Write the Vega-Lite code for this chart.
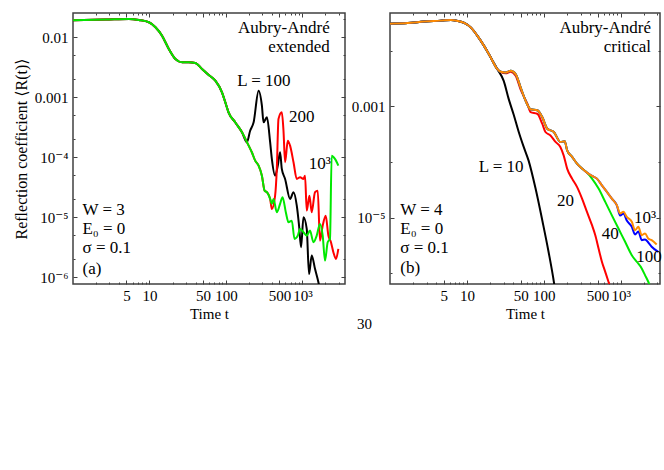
{
  "$schema": "https://vega.github.io/schema/vega-lite/v6.json",
  "background": "white",
  "padding": {"left": 12, "top": 11, "right": 2, "bottom": 5},
  "config": {
    "font": "Liberation Serif, DejaVu Serif, serif",
    "view": {"stroke": "#404040", "strokeWidth": 1.5},
    "axis": {
      "labelFont": "Liberation Serif, DejaVu Serif, serif", "titleFont": "Liberation Serif, DejaVu Serif, serif",
      "labelFontSize": 15, "titleFontSize": 15, "titleFontWeight": "normal",
      "labelColor": "black", "titleColor": "black",
      "domain": false, "grid": false, "tickColor": "#404040", "tickWidth": 1
    },
    "text": {"font": "Liberation Serif, DejaVu Serif, serif", "fontSize": 17, "color": "black"},
    "title": {"font": "Liberation Serif, DejaVu Serif, serif"}
  },
  "title": {"text": "30", "orient": "bottom", "anchor": "middle", "fontSize": 15, "fontWeight": "normal", "dx": 27, "offset": -5},
  "spacing": 3,
  "resolve": {"scale": {"color": "independent"}},
  "datasets": {
    "a": [
      {"L":"100","t":1,"R":0.0192},{"L":"100","t":2.67,"R":0.0197},{"L":"100","t":5.39,"R":0.0202},{"L":"100","t":7.27,"R":0.0194},{"L":"100","t":9.82,"R":0.0178},{"L":"100","t":11.97,"R":0.0147},{"L":"100","t":14.6,"R":0.01063},{"L":"100","t":17.9,"R":0.00638},{"L":"100","t":21.8,"R":0.00435},{"L":"100","t":26.7,"R":0.00383},{"L":"100","t":32.6,"R":0.00383},{"L":"100","t":39.8,"R":0.00373},{"L":"100","t":48.7,"R":0.00296},{"L":"100","t":59.5,"R":0.00235},{"L":"100","t":72.6,"R":0.00189},{"L":"100","t":88.7,"R":0.00121},{"L":"100","t":98,"R":0.000825},{"L":"100","t":108,"R":0.000562},{"L":"100","t":132,"R":0.000383},{"L":"100","t":162,"R":0.000261},
      {"L":"100","t":188,"R":1.78e-4},{"L":"100","t":207,"R":2.77e-4},{"L":"100","t":230,"R":3.83e-4},{"L":"100","t":267,"R":1.29e-3},{"L":"100","t":295,"R":7.24e-4},{"L":"100","t":310,"R":3.83e-4},{"L":"100","t":343,"R":4.64e-4},{"L":"100","t":378,"R":1.78e-4},{"L":"100","t":398,"R":9.37e-5},{"L":"100","t":439,"R":4.93e-5},{"L":"100","t":476,"R":7.24e-5},{"L":"100","t":510,"R":1.21e-4},{"L":"100","t":537,"R":6.38e-5},{"L":"100","t":593,"R":4.35e-5},{"L":"100","t":689,"R":2.02e-5},{"L":"100","t":764,"R":2.61e-5},{"L":"100","t":843,"R":1.56e-5},{"L":"100","t":903,"R":7.24e-6},{"L":"100","t":959,"R":3.16e-6},{"L":"100","t":1031,"R":1.0e-5},{"L":"100","t":1138,"R":6.38e-6},{"L":"100","t":1219,"R":1.13e-6},{"L":"100","t":1322,"R":2.29e-6},{"L":"100","t":1459,"R":1.38e-6},{"L":"100","t":1617,"R":8.25e-7},{"L":"100","t":1733,"R":5.27e-7},
      {"L":"200","t":1,"R":0.0192},{"L":"200","t":2.67,"R":0.0197},{"L":"200","t":5.39,"R":0.0202},{"L":"200","t":7.27,"R":0.0194},{"L":"200","t":9.82,"R":0.0178},{"L":"200","t":11.97,"R":0.0147},{"L":"200","t":14.6,"R":0.01063},{"L":"200","t":17.9,"R":0.00638},{"L":"200","t":21.8,"R":0.00435},{"L":"200","t":26.7,"R":0.00383},{"L":"200","t":32.6,"R":0.00383},{"L":"200","t":39.8,"R":0.00373},{"L":"200","t":48.7,"R":0.00296},{"L":"200","t":59.5,"R":0.00235},{"L":"200","t":72.6,"R":0.00189},{"L":"200","t":88.7,"R":0.00121},{"L":"200","t":98,"R":0.000825},{"L":"200","t":108,"R":0.000562},{"L":"200","t":132,"R":0.000383},{"L":"200","t":162,"R":0.000261},{"L":"200","t":198,"R":0.000156},{"L":"200","t":218,"R":0.000121},{"L":"200","t":241,"R":8.77e-5},{"L":"200","t":267,"R":7.24e-5},{"L":"200","t":295,"R":4.93e-5},{"L":"200","t":320,"R":2.77e-5},{"L":"200","t":343,"R":2.61e-5},{"L":"200","t":378,"R":2.02e-5},
      {"L":"200","t":398,"R":1.37e-5},{"L":"200","t":439,"R":2.29e-5},{"L":"200","t":462,"R":6.38e-5},{"L":"200","t":486,"R":4.35e-4},{"L":"200","t":537,"R":5.62e-4},{"L":"200","t":565,"R":2.77e-4},{"L":"200","t":593,"R":8.25e-5},{"L":"200","t":643,"R":1.89e-4},{"L":"200","t":689,"R":1.56e-4},{"L":"200","t":764,"R":8.25e-5},{"L":"200","t":843,"R":4.35e-5},{"L":"200","t":931,"R":4.64e-5},{"L":"200","t":1031,"R":4.35e-5},{"L":"200","t":1081,"R":4.93e-5},{"L":"200","t":1138,"R":1.29e-5},{"L":"200","t":1234,"R":2.29e-5},{"L":"200","t":1322,"R":1.21e-5},{"L":"200","t":1459,"R":2.61e-5},{"L":"200","t":1584,"R":2.77e-5},{"L":"200","t":1695,"R":4.07e-6},{"L":"200","t":1840,"R":7.24e-6},{"L":"200","t":2014,"R":1.06e-5},{"L":"200","t":2183,"R":4.93e-6},{"L":"200","t":2360,"R":3.83e-6},{"L":"200","t":2537,"R":2.61e-6},{"L":"200","t":2742,"R":2.02e-6},{"L":"200","t":2946,"R":2.96e-6},
      {"L":"1000","t":1,"R":0.0192},{"L":"1000","t":2.67,"R":0.0197},{"L":"1000","t":5.39,"R":0.0202},{"L":"1000","t":7.27,"R":0.0194},{"L":"1000","t":9.82,"R":0.0178},{"L":"1000","t":11.97,"R":0.0147},{"L":"1000","t":14.6,"R":0.01063},{"L":"1000","t":17.9,"R":0.00638},{"L":"1000","t":21.8,"R":0.00435},{"L":"1000","t":26.7,"R":0.00383},{"L":"1000","t":32.6,"R":0.00383},{"L":"1000","t":39.8,"R":0.00373},{"L":"1000","t":48.7,"R":0.00296},{"L":"1000","t":59.5,"R":0.00235},{"L":"1000","t":72.6,"R":0.00189},{"L":"1000","t":88.7,"R":0.00121},{"L":"1000","t":98,"R":0.000825},{"L":"1000","t":108,"R":0.000562},{"L":"1000","t":132,"R":0.000383},{"L":"1000","t":162,"R":0.000261},{"L":"1000","t":198,"R":0.000156},{"L":"1000","t":218,"R":0.000121},{"L":"1000","t":241,"R":8.77e-5},{"L":"1000","t":267,"R":7.24e-5},{"L":"1000","t":295,"R":4.93e-5},{"L":"1000","t":320,"R":2.77e-5},{"L":"1000","t":343,"R":2.61e-5},{"L":"1000","t":378,"R":2.02e-5},
      {"L":"1000","t":398,"R":1.67e-5},{"L":"1000","t":419,"R":2.02e-5},{"L":"1000","t":462,"R":1.21e-5},{"L":"1000","t":510,"R":1.67e-5},{"L":"1000","t":549,"R":2.16e-5},{"L":"1000","t":606,"R":1.21e-5},{"L":"1000","t":657,"R":8.25e-6},{"L":"1000","t":726,"R":8.77e-6},{"L":"1000","t":787,"R":4.35e-6},{"L":"1000","t":868,"R":4.93e-6},{"L":"1000","t":931,"R":6.38e-6},{"L":"1000","t":1031,"R":5.62e-6},{"L":"1000","t":1138,"R":4.93e-6},{"L":"1000","t":1256,"R":5.98e-6},{"L":"1000","t":1390,"R":3.83e-6},{"L":"1000","t":1536,"R":4.93e-6},{"L":"1000","t":1695,"R":7.73e-6},{"L":"1000","t":1840,"R":4.93e-6},{"L":"1000","t":1972,"R":1.89e-6},{"L":"1000","t":2137,"R":3.83e-6},{"L":"1000","t":2290,"R":4.35e-6},{"L":"1000","t":2410,"R":1.06e-4},{"L":"1000","t":2661,"R":9.37e-5},{"L":"1000","t":2946,"R":7.24e-5}
    ],
    "b": [
      {"L":"10","t":1,"R":0.0309},{"L":"10","t":1.71,"R":0.0318},{"L":"10","t":2.8,"R":0.0336},{"L":"10","t":4.61,"R":0.035},{"L":"10","t":6.21,"R":0.036},{"L":"10","t":7.58,"R":0.0346},{"L":"10","t":9.23,"R":0.0318},{"L":"10","t":11.3,"R":0.0262},{"L":"10","t":13.7,"R":0.0186},{"L":"10","t":16.7,"R":0.0123},{"L":"10","t":20.4,"R":0.00759},{"L":"10","t":24.9,"R":0.00469},
      {"L":"10","t":30.1,"R":0.00289},{"L":"10","t":34.9,"R":0.00137},{"L":"10","t":40.6,"R":7.1e-4},{"L":"10","t":47.1,"R":3.51e-4},{"L":"10","t":54.6,"R":1.89e-4},{"L":"10","t":63.4,"R":1.06e-4},{"L":"10","t":78.1,"R":3.33e-5},{"L":"10","t":96.2,"R":8.51e-6},{"L":"10","t":115,"R":2.46e-6},{"L":"10","t":136,"R":6.56e-7},{"L":"10","t":142,"R":4.33e-7},
      {"L":"20","t":1,"R":0.0309},{"L":"20","t":1.71,"R":0.0318},{"L":"20","t":2.8,"R":0.0336},{"L":"20","t":4.61,"R":0.035},{"L":"20","t":6.21,"R":0.036},{"L":"20","t":7.58,"R":0.0346},{"L":"20","t":9.23,"R":0.0318},{"L":"20","t":11.3,"R":0.0262},{"L":"20","t":13.7,"R":0.0186},{"L":"20","t":16.7,"R":0.0123},{"L":"20","t":20.4,"R":0.00759},{"L":"20","t":24.9,"R":0.00469},{"L":"20","t":27.5,"R":0.0042},
      {"L":"20","t":32,"R":0.00394},{"L":"20","t":37.1,"R":0.0042},{"L":"20","t":43,"R":0.00356},{"L":"20","t":50,"R":0.002},{"L":"20","t":61,"R":0.00112},{"L":"20","t":67.3,"R":7.94e-4},{"L":"20","t":82.2,"R":7.39e-4},{"L":"20","t":95.3,"R":4.89e-4},{"L":"20","t":105,"R":3.47e-4},{"L":"20","t":122,"R":3.01e-4},{"L":"20","t":142,"R":2.3e-4},{"L":"20","t":164,"R":1.87e-4},{"L":"20","t":181,"R":1.32e-4},{"L":"20","t":201,"R":7.62e-5},{"L":"20","t":233,"R":5.03e-5},{"L":"20","t":270,"R":3.57e-5},{"L":"20","t":314,"R":2.2e-5},{"L":"20","t":364,"R":1.27e-5},{"L":"20","t":423,"R":7.31e-6},{"L":"20","t":467,"R":4.83e-6},{"L":"20","t":515,"R":2.79e-6},{"L":"20","t":569,"R":1.61e-6},{"L":"20","t":629,"R":1.06e-6},{"L":"20","t":693,"R":7.03e-7},{"L":"20","t":751,"R":4.91e-7},
      {"L":"40","t":1,"R":0.0309},{"L":"40","t":1.71,"R":0.0318},{"L":"40","t":2.8,"R":0.0336},{"L":"40","t":4.61,"R":0.035},{"L":"40","t":6.21,"R":0.036},{"L":"40","t":7.58,"R":0.0346},{"L":"40","t":9.23,"R":0.0318},{"L":"40","t":11.3,"R":0.0262},{"L":"40","t":13.7,"R":0.0186},{"L":"40","t":16.7,"R":0.0123},{"L":"40","t":20.4,"R":0.00759},{"L":"40","t":24.9,"R":0.00469},{"L":"40","t":27.5,"R":0.0042},
      {"L":"40","t":32,"R":0.00408},{"L":"40","t":37.1,"R":0.00438},{"L":"40","t":43,"R":0.00382},{"L":"40","t":50,"R":0.00219},{"L":"40","t":58,"R":0.00126},{"L":"40","t":67.3,"R":8.9e-4},{"L":"40","t":82.2,"R":8.55e-4},{"L":"40","t":95.3,"R":6.45e-4},{"L":"40","t":111,"R":3.98e-4},{"L":"40","t":135,"R":3.47e-4},{"L":"40","t":164,"R":2.3e-4},{"L":"40","t":187,"R":2.36e-4},{"L":"40","t":201,"R":1.62e-4},{"L":"40","t":233,"R":1.24e-4},{"L":"40","t":270,"R":9.36e-5},{"L":"40","t":314,"R":7.62e-5},{"L":"40","t":364,"R":6.46e-5},
      {"L":"40","t":423,"R":5.03e-5},{"L":"40","t":515,"R":3.33e-5},{"L":"40","t":629,"R":1.92e-5},{"L":"40","t":767,"R":1.1e-5},{"L":"40","t":934,"R":6.37e-6},{"L":"40","t":1140,"R":3.68e-6},{"L":"40","t":1393,"R":2.11e-6},{"L":"40","t":1616,"R":1.61e-6},{"L":"40","t":1875,"R":1.22e-6},{"L":"40","t":2069,"R":9.25e-7},{"L":"40","t":2281,"R":7.03e-7},{"L":"40","t":2473,"R":5.33e-7},
      {"L":"100","t":1,"R":0.0309},{"L":"100","t":1.71,"R":0.0318},{"L":"100","t":2.8,"R":0.0336},{"L":"100","t":4.61,"R":0.035},{"L":"100","t":6.21,"R":0.036},{"L":"100","t":7.58,"R":0.0346},{"L":"100","t":9.23,"R":0.0318},{"L":"100","t":11.3,"R":0.0262},{"L":"100","t":13.7,"R":0.0186},{"L":"100","t":16.7,"R":0.0123},{"L":"100","t":20.4,"R":0.00759},{"L":"100","t":24.9,"R":0.00469},{"L":"100","t":27.5,"R":0.0042},
      {"L":"100","t":32,"R":0.00408},{"L":"100","t":37.1,"R":0.00438},{"L":"100","t":43,"R":0.00382},{"L":"100","t":50,"R":0.00219},{"L":"100","t":58,"R":0.00126},{"L":"100","t":67.3,"R":8.9e-4},{"L":"100","t":82.2,"R":8.55e-4},{"L":"100","t":95.3,"R":6.45e-4},{"L":"100","t":111,"R":3.98e-4},{"L":"100","t":135,"R":3.47e-4},{"L":"100","t":164,"R":2.3e-4},{"L":"100","t":187,"R":2.36e-4},{"L":"100","t":201,"R":1.62e-4},{"L":"100","t":233,"R":1.24e-4},{"L":"100","t":270,"R":9.36e-5},{"L":"100","t":314,"R":7.62e-5},{"L":"100","t":364,"R":6.46e-5},{"L":"100","t":423,"R":5.62e-5},{"L":"100","t":491,"R":5.03e-5},{"L":"100","t":569,"R":3.82e-5},{"L":"100","t":661,"R":2.9e-5},{"L":"100","t":767,"R":2.2e-5},{"L":"100","t":891,"R":1.67e-5},
      {"L":"100","t":982,"R":1.09e-5},{"L":"100","t":1084,"R":1.19e-5},{"L":"100","t":1199,"R":8.87e-6},{"L":"100","t":1393,"R":6.84e-6},{"L":"100","t":1535,"R":4.98e-6},{"L":"100","t":1694,"R":5.62e-6},{"L":"100","t":1875,"R":3.93e-6},{"L":"100","t":2069,"R":4.05e-6},{"L":"100","t":2281,"R":3.57e-6},{"L":"100","t":2525,"R":2.99e-6},{"L":"100","t":3076,"R":2.43e-6},
      {"L":"1000","t":1,"R":0.0309},{"L":"1000","t":1.71,"R":0.0318},{"L":"1000","t":2.8,"R":0.0336},{"L":"1000","t":4.61,"R":0.035},{"L":"1000","t":6.21,"R":0.036},{"L":"1000","t":7.58,"R":0.0346},{"L":"1000","t":9.23,"R":0.0318},{"L":"1000","t":11.3,"R":0.0262},{"L":"1000","t":13.7,"R":0.0186},{"L":"1000","t":16.7,"R":0.0123},{"L":"1000","t":20.4,"R":0.00759},{"L":"1000","t":24.9,"R":0.00469},{"L":"1000","t":27.5,"R":0.0042},
      {"L":"1000","t":32,"R":0.00408},{"L":"1000","t":37.1,"R":0.00438},{"L":"1000","t":43,"R":0.00382},{"L":"1000","t":50,"R":0.00219},{"L":"1000","t":58,"R":0.00126},{"L":"1000","t":67.3,"R":8.9e-4},{"L":"1000","t":82.2,"R":8.55e-4},{"L":"1000","t":95.3,"R":6.45e-4},{"L":"1000","t":111,"R":3.98e-4},{"L":"1000","t":135,"R":3.47e-4},{"L":"1000","t":164,"R":2.3e-4},{"L":"1000","t":187,"R":2.36e-4},{"L":"1000","t":201,"R":1.62e-4},{"L":"1000","t":233,"R":1.24e-4},{"L":"1000","t":270,"R":9.36e-5},{"L":"1000","t":314,"R":7.62e-5},{"L":"1000","t":364,"R":6.46e-5},{"L":"1000","t":423,"R":5.62e-5},{"L":"1000","t":491,"R":5.03e-5},{"L":"1000","t":569,"R":3.82e-5},{"L":"1000","t":661,"R":2.9e-5},{"L":"1000","t":767,"R":2.2e-5},{"L":"1000","t":891,"R":1.67e-5},{"L":"1000","t":982,"R":1.19e-5},{"L":"1000","t":1084,"R":1.27e-5},{"L":"1000","t":1199,"R":1.03e-5},{"L":"1000","t":1393,"R":8.41e-6},{"L":"1000","t":1535,"R":5.94e-6},{"L":"1000","t":1694,"R":6.84e-6},{"L":"1000","t":1875,"R":4.83e-6},{"L":"1000","t":2069,"R":5.19e-6},{"L":"1000","t":2281,"R":4.22e-6},{"L":"1000","t":2525,"R":3.93e-6},{"L":"1000","t":2931,"R":3.29e-6}
    ],
    "ta": [
      {"k":"title","t":2270,"R":0.0143,"txt":"Aubry-André"},
      {"k":"title","t":2270,"R":0.00689,"txt":"extended"},
      {"k":"curve","t":313,"R":0.00187,"txt":"L = 100"},
      {"k":"curve","t":979,"R":4.69e-4,"txt":"200"},
      {"k":"curve","t":1682,"R":7.73e-5,"txt":"10³"},
      {"k":"corner","t":1.33,"R":1.32e-5,"txt":"W = 3"},
      {"k":"corner","t":1.33,"R":6.38e-6,"txt":"E₀ = 0"},
      {"k":"corner","t":1.33,"R":3.08e-6,"txt":"σ = 0.1"},
      {"k":"corner","t":1.33,"R":1.38e-6,"txt":"(a)"}
    ],
    "tb": [
      {"k":"title","t":2473,"R":0.0259,"txt":"Aubry-André"},
      {"k":"title","t":2473,"R":0.0118,"txt":"critical"},
      {"k":"curve","t":27.9,"R":8.26e-5,"txt":"L = 10"},
      {"k":"curve","t":191,"R":2.03e-5,"txt":"20"},
      {"k":"curve","t":729,"R":4.98e-6,"txt":"40"},
      {"k":"curve","t":2069,"R":1.0e-5,"txt":"10³"},
      {"k":"curve","t":2330,"R":1.92e-6,"txt":"100"},
      {"k":"corner","t":1.36,"R":1.4e-5,"txt":"W = 4"},
      {"k":"corner","t":1.36,"R":6.37e-6,"txt":"E₀ = 0"},
      {"k":"corner","t":1.36,"R":2.9e-6,"txt":"σ = 0.1"},
      {"k":"corner","t":1.36,"R":1.22e-6,"txt":"(b)"}
    ]
  },
  "hconcat": [
    {
      "width": 272,
      "height": 271,
      "resolve": {"axis": {"x": "independent", "y": "independent"}},
      "layer": [
        {
          "data": {"name": "a"},
          "mark": {"type": "line", "strokeWidth": 2, "interpolate": "monotone", "clip": true},
          "encoding": {
            "x": {"field": "t", "type": "quantitative", "scale": {"type": "log", "domain": [1, 3600], "nice": false},
                  "axis": {"orient": "bottom", "values": [5, 10, 50, 100, 500, 1000], "labelExpr": "datum.value == 1000 ? '10³' : '' + datum.value", "tickSize": -4, "labelPadding": 8, "title": "Time t", "titlePadding": 3}},
            "y": {"field": "R", "type": "quantitative", "scale": {"type": "log", "domain": [7.7e-7, 0.0254], "nice": false},
                  "axis": {"orient": "left", "values": [0.01, 0.001, 0.0001, 0.00001, 0.000001], "labelExpr": "datum.value > 0.005 ? '0.01' : datum.value > 0.0005 ? '0.001' : datum.value > 0.00005 ? '10⁻⁴' : datum.value > 0.000005 ? '10⁻⁵' : '10⁻⁶'", "tickSize": -4, "labelPadding": 9, "title": "Reflection coefficient ⟨R(t)⟩", "titleFontSize": 16, "titlePadding": 5}},
            "color": {"field": "L", "type": "nominal", "scale": {"domain": ["100", "200", "1000"], "range": ["#000000", "#ff0000", "#00e800"]}, "legend": null}
          }
        },
        {
          "data": {"name": "ta"},
          "transform": [{"filter": "datum.k == 'title'"}],
          "mark": {"type": "text", "align": "right", "baseline": "middle"},
          "encoding": {
            "x": {"field": "t", "type": "quantitative", "scale": {"type": "log", "domain": [1, 3600], "nice": false},
                  "axis": {"orient": "top", "values": [5, 10, 50, 100, 500, 1000], "labels": false, "tickSize": -4, "title": null}},
            "y": {"field": "R", "type": "quantitative", "scale": {"type": "log", "domain": [7.7e-7, 0.0254], "nice": false},
                  "axis": {"orient": "right", "values": [0.01, 0.001, 0.0001, 0.00001, 0.000001], "labels": false, "tickSize": -4, "title": null}},
            "text": {"field": "txt"}
          }
        },
        {
          "data": {"name": "ta"},
          "transform": [{"filter": "datum.k == 'curve'"}],
          "mark": {"type": "text", "align": "center", "baseline": "middle"},
          "encoding": {
            "x": {"field": "t", "type": "quantitative", "scale": {"type": "log", "domain": [1, 3600], "nice": false},
                  "axis": {"orient": "bottom", "values": [2, 3, 4, 6, 7, 8, 9, 20, 30, 40, 60, 70, 80, 90, 200, 300, 400, 600, 700, 800, 900, 2000, 3000], "labels": false, "tickSize": -2, "title": null}},
            "y": {"field": "R", "type": "quantitative", "scale": {"type": "log", "domain": [7.7e-7, 0.0254], "nice": false},
                  "axis": {"orient": "left", "values": [0.02, 0.005, 0.002, 0.0005, 0.0002, 0.00005, 0.00002, 0.000005, 0.000002], "labels": false, "tickSize": -2, "title": null}},
            "text": {"field": "txt"}
          }
        },
        {
          "data": {"name": "ta"},
          "transform": [{"filter": "datum.k == 'corner'"}],
          "mark": {"type": "text", "align": "left", "baseline": "middle"},
          "encoding": {
            "x": {"field": "t", "type": "quantitative", "scale": {"type": "log", "domain": [1, 3600], "nice": false},
                  "axis": {"orient": "top", "values": [2, 3, 4, 6, 7, 8, 9, 20, 30, 40, 60, 70, 80, 90, 200, 300, 400, 600, 700, 800, 900, 2000, 3000], "labels": false, "tickSize": -2, "title": null}},
            "y": {"field": "R", "type": "quantitative", "scale": {"type": "log", "domain": [7.7e-7, 0.0254], "nice": false},
                  "axis": {"orient": "right", "values": [0.02, 0.005, 0.002, 0.0005, 0.0002, 0.00005, 0.00002, 0.000005, 0.000002], "labels": false, "tickSize": -2, "title": null}},
            "text": {"field": "txt"}
          }
        }
      ]
    },
    {
      "width": 270,
      "height": 271,
      "resolve": {"axis": {"x": "independent", "y": "independent"}},
      "layer": [
        {
          "data": {"name": "b"},
          "mark": {"type": "line", "strokeWidth": 2, "interpolate": "monotone", "clip": true},
          "encoding": {
            "x": {"field": "t", "type": "quantitative", "scale": {"type": "log", "domain": [1, 3240], "nice": false},
                  "axis": {"orient": "bottom", "values": [5, 10, 50, 100, 500, 1000], "labelExpr": "datum.value == 1000 ? '10³' : '' + datum.value", "tickSize": -4, "labelPadding": 8, "title": "Time t", "titlePadding": 3}},
            "y": {"field": "R", "type": "quantitative", "scale": {"type": "log", "domain": [6.4e-7, 0.048], "nice": false},
                  "axis": {"orient": "left", "values": [0.001, 0.00001], "labelExpr": "datum.value > 0.0001 ? '0.001' : '10⁻⁵'", "tickSize": -4, "labelPadding": 9, "title": null}},
            "color": {"field": "L", "type": "nominal", "scale": {"domain": ["10", "20", "40", "100", "1000"], "range": ["#000000", "#ff0000", "#00e800", "#0000ff", "#ff8c00"]}, "legend": null}
          }
        },
        {
          "data": {"name": "tb"},
          "transform": [{"filter": "datum.k == 'title'"}],
          "mark": {"type": "text", "align": "right", "baseline": "middle"},
          "encoding": {
            "x": {"field": "t", "type": "quantitative", "scale": {"type": "log", "domain": [1, 3240], "nice": false},
                  "axis": {"orient": "top", "values": [5, 10, 50, 100, 500, 1000], "labels": false, "tickSize": -4, "title": null}},
            "y": {"field": "R", "type": "quantitative", "scale": {"type": "log", "domain": [6.4e-7, 0.048], "nice": false},
                  "axis": {"orient": "right", "values": [0.001, 0.00001], "labels": false, "tickSize": -4, "title": null}},
            "text": {"field": "txt"}
          }
        },
        {
          "data": {"name": "tb"},
          "transform": [{"filter": "datum.k == 'curve'"}],
          "mark": {"type": "text", "align": "center", "baseline": "middle"},
          "encoding": {
            "x": {"field": "t", "type": "quantitative", "scale": {"type": "log", "domain": [1, 3240], "nice": false},
                  "axis": {"orient": "bottom", "values": [2, 3, 4, 6, 7, 8, 9, 20, 30, 40, 60, 70, 80, 90, 200, 300, 400, 600, 700, 800, 900, 2000, 3000], "labels": false, "tickSize": -2, "title": null}},
            "y": {"field": "R", "type": "quantitative", "scale": {"type": "log", "domain": [6.4e-7, 0.048], "nice": false},
                  "axis": {"orient": "left", "values": [0.01, 0.0001, 0.000001], "labels": false, "tickSize": -2, "title": null}},
            "text": {"field": "txt"}
          }
        },
        {
          "data": {"name": "tb"},
          "transform": [{"filter": "datum.k == 'corner'"}],
          "mark": {"type": "text", "align": "left", "baseline": "middle"},
          "encoding": {
            "x": {"field": "t", "type": "quantitative", "scale": {"type": "log", "domain": [1, 3240], "nice": false},
                  "axis": {"orient": "top", "values": [2, 3, 4, 6, 7, 8, 9, 20, 30, 40, 60, 70, 80, 90, 200, 300, 400, 600, 700, 800, 900, 2000, 3000], "labels": false, "tickSize": -2, "title": null}},
            "y": {"field": "R", "type": "quantitative", "scale": {"type": "log", "domain": [6.4e-7, 0.048], "nice": false},
                  "axis": {"orient": "right", "values": [0.01, 0.0001, 0.000001], "labels": false, "tickSize": -2, "title": null}},
            "text": {"field": "txt"}
          }
        }
      ]
    }
  ]
}
